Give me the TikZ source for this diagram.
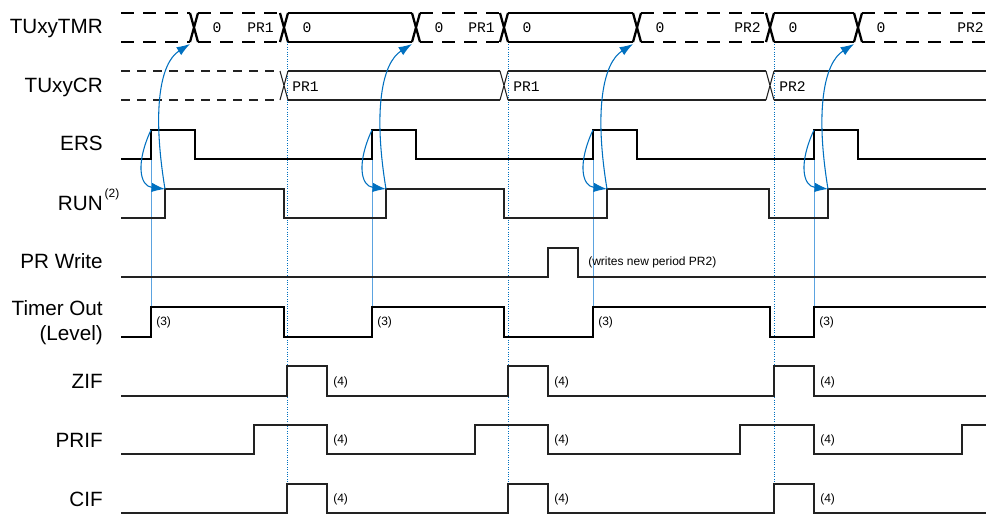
\documentclass[tikz,border=0pt]{standalone}
\usepackage{fontspec}
\setmainfont{Liberation Sans}
\newfontfamily\monof{Liberation Mono}
\usetikzlibrary{arrows.meta}
\definecolor{arrblue}{HTML}{0070C0}
\definecolor{lineblue}{HTML}{5BA3E0}
\definecolor{sigcol}{HTML}{222222}
\begin{document}
\begin{tikzpicture}[x=0.75pt,y=-0.75pt,
  thicksig/.style={line width=1.7pt, black},
  thinsig/.style={line width=0.8pt, sigcol},
  lbl/.style={anchor=base east, inner sep=0pt, font=\fontsize{15.5}{18}\selectfont},
  note/.style={anchor=west, inner sep=0pt, font=\fontsize{9}{10}\selectfont},
  val/.style={inner sep=0pt, font=\monof\fontsize{11}{12}\selectfont},
  dashthick/.style={thicksig, dash pattern=on 10pt off 6.5pt},
  dashthin/.style={thinsig, dash pattern=on 7pt off 5pt},
  flow/.style={arrblue, line width=0.8pt, -{Latex[length=10pt,width=7pt]}},
  period/.style={arrblue, line width=0.6pt, dash pattern=on 0.8pt off 1pt},
  trig/.style={lineblue, line width=0.6pt}]
\useasboundingbox (0,0) rectangle (986,514);

% ---- labels ----
\node[lbl] (lTMR) at (103,33) {TUxyTMR};
\node[lbl] (lCR) at (103,92) {TUxyCR};
\node[lbl] (lERS) at (103,150) {ERS};
\node[lbl] (lRUN) at (103,210) {RUN\rlap{\raisebox{0.62em}{\fontsize{9}{9}\selectfont\,(2)}}};
\node[lbl] (lPRW) at (103,268) {PR Write};
\node[lbl] (lTO) at (103,315) {Timer Out};
\node[lbl] (lLev) at (103,340) {(Level)};
\node[lbl] (lZIF) at (103,388) {ZIF};
\node[lbl] (lPRIF) at (103,447) {PRIF};
\node[lbl] (lCIF) at (103,506) {CIF};

% ---- vertical guide lines ----
\foreach \x in {151,372,593,814} \draw[trig] (\x,130) -- (\x,337);
\foreach \x in {287,508,774} \draw[period] (\x,42) -- (\x,514);

% ---- TUxyTMR bus ----
\foreach \c in {194,284,416,504,637,770,858}
  \draw[thicksig] (\c-4,13) -- (\c+4,42) (\c-4,42) -- (\c+4,13);
\foreach \a/\b in {121/190,198/280,420/500,641/766,862/986}
  \draw[dashthick] (\a,13) -- (\b,13) (\a,42) -- (\b,42);
\foreach \a/\b in {288/412,508/633,774/854}
  \draw[thicksig] (\a,13) -- (\b,13) (\a,42) -- (\b,42);
\foreach \c [count=\i] in {194,284,416,504,637,770,858}
  \node[val] (z\i) at (\c+23,28) {0};
\node[val,anchor=east] (p1) at (274,28) {PR1};
\node[val,anchor=east] (p2) at (495,28) {PR1};
\node[val,anchor=east] (p3) at (761,28) {PR2};
\node[val,anchor=east] (p4) at (984,28) {PR2};

% ---- TUxyCR bus ----
\foreach \c in {284,504,770}
  \draw[thinsig] (\c-4,71) -- (\c+4,100) (\c-4,100) -- (\c+4,71);
\draw[dashthin] (121,71) -- (280,71) (121,100) -- (280,100);
\foreach \a/\b in {288/500,508/766,774/986}
  \draw[thinsig] (\a,71) -- (\b,71) (\a,100) -- (\b,100);
\node[val,anchor=west] (c1) at (292,87) {PR1};
\node[val,anchor=west] (c2) at (513,87) {PR1};
\node[val,anchor=west] (c3) at (779,87) {PR2};

% ---- ERS ----
\draw[thicksig] (121,159) -- (151,159) -- (151,130) -- (195,130) -- (195,159)
  -- (372,159) -- (372,130) -- (416,130) -- (416,159)
  -- (593,159) -- (593,130) -- (637,130) -- (637,159)
  -- (814,159) -- (814,130) -- (858,130) -- (858,159) -- (986,159);

% ---- RUN ----
\draw[thinsig] (121,218) -- (165,218) -- (165,189) -- (284,189) -- (284,218)
  -- (386,218) -- (386,189) -- (504,189) -- (504,218)
  -- (607,218) -- (607,189) -- (769,189) -- (769,218)
  -- (828,218) -- (828,189) -- (986,189);

% ---- PR Write ----
\draw[thinsig] (121,277) -- (548,277) -- (548,248) -- (578,248) -- (578,277) -- (986,277);
\node[note] (wr) at (588,262) {(writes new period PR2)};

% ---- Timer Out ----
\draw[thicksig] (121,337) -- (151,337) -- (151,307) -- (284,307) -- (284,337)
  -- (372,337) -- (372,307) -- (504,307) -- (504,337)
  -- (593,337) -- (593,307) -- (770,307) -- (770,337)
  -- (814,337) -- (814,307) -- (986,307);
\foreach \x [count=\i] in {151,372,593,814} \node[note] (t\i) at (\x+5,322) {(3)};

% ---- ZIF ----
\draw[thinsig] (121,396) -- (287,396) -- (287,366) -- (327,366) -- (327,396)
  -- (508,396) -- (508,366) -- (548,366) -- (548,396)
  -- (774,396) -- (774,366) -- (814,366) -- (814,396) -- (986,396);
% ---- PRIF ----
\draw[thinsig] (121,454) -- (254,454) -- (254,425) -- (327,425) -- (327,454)
  -- (475,454) -- (475,425) -- (548,425) -- (548,454)
  -- (740,454) -- (740,425) -- (814,425) -- (814,454)
  -- (962,454) -- (962,425) -- (986,425);
% ---- CIF ----
\draw[thinsig] (121,513) -- (287,513) -- (287,484) -- (327,484) -- (327,513)
  -- (508,513) -- (508,484) -- (548,484) -- (548,513)
  -- (774,513) -- (774,484) -- (814,484) -- (814,513) -- (986,513);
\foreach \x [count=\i] in {327,548,814} {
  \node[note] (za\i) at (\x+6,382) {(4)};
  \node[note] (pa\i) at (\x+6,440) {(4)};
  \node[note] (ca\i) at (\x+6,499) {(4)};
}

% ---- causal arrows ----
\foreach \e/\r/\t in {151/165/190,372/386/412,593/607/633,814/828/854} {
  \coordinate (ers\e) at (\e,130);
  \coordinate (run\e) at (\r,189);
  \coordinate (tmr\e) at (\t,44);
  \draw[flow] (ers\e) .. controls +(-15,32) and +(-26,-3) .. (run\e);
  \draw[flow] (run\e) .. controls +(-13,-79) and +(-30,19) .. (tmr\e);
}
\end{tikzpicture}
\end{document}
